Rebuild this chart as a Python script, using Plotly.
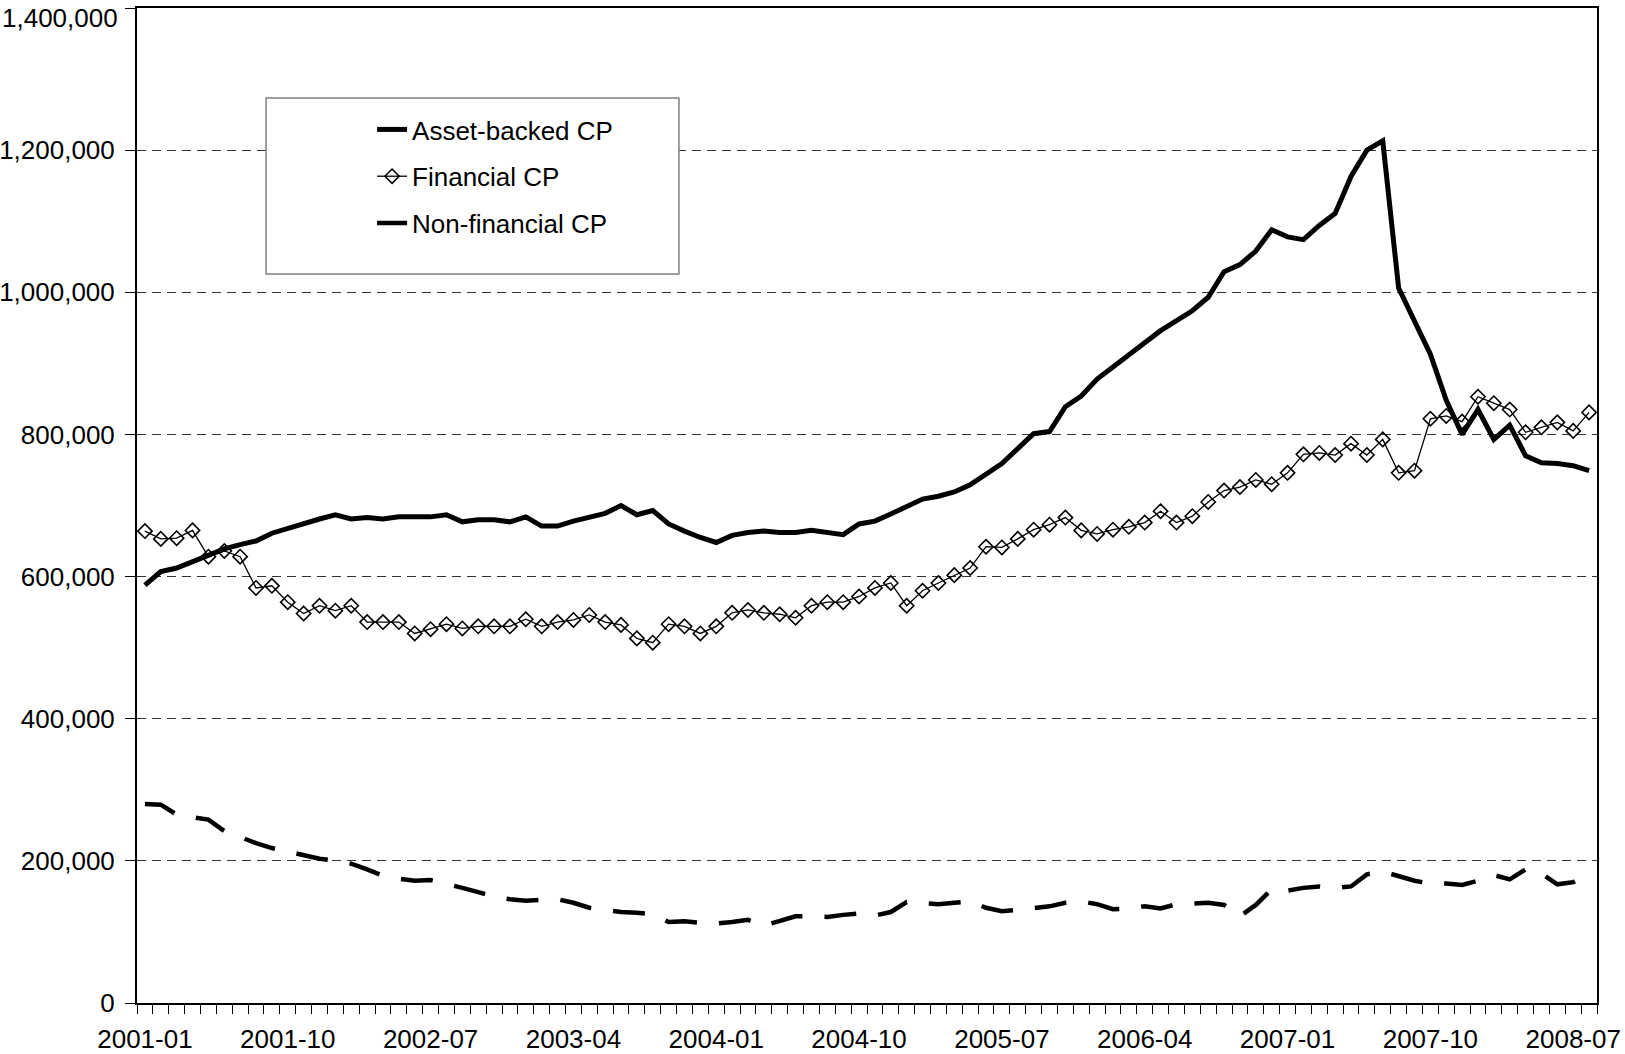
import plotly.graph_objects as go

# Monthly categories 2001-01 .. 2008-08
months = [f"{2001 + m // 12}-{m % 12 + 1:02d}" for m in range(92)]

tick_labels = ["2001-01", "2001-10", "2002-07", "2003-04", "2004-01", "2004-10",
               "2005-07", "2006-04", "2007-01", "2007-10", "2008-07"]

y_tick_values = [0, 200000, 400000, 600000, 800000, 1000000, 1200000, 1400000]

asset_backed = [
    588000, 607000, 612000, 621000, 630000, 639000, 645000, 650000, 661000, 668000,
    674000, 681000, 687000, 681000, 683000, 681000, 684000, 684000, 684000, 687000,
    677000, 680000, 680000, 677000, 684000, 671000, 671000, 678000, 683000, 689000,
    700000, 687000, 693000, 674000, 664000, 655000, 648000, 658000, 662000, 664000,
    662000, 662000, 665000, 662000, 659000, 674000, 678000, 688000, 699000, 709000,
    713000, 719000, 729000, 743000, 759000, 780000, 801000, 804000, 839000, 854000,
    878000, 895000, 911000, 929000, 946000, 959000, 974000, 993000, 1029000, 1039000,
    1058000, 1088000, 1078000, 1074000, 1094000, 1111000, 1163000, 1200000, 1213000, 1006000,
    959000, 913000, 848000, 800000, 835000, 793000, 813000, 770000, 760000, 759000,
    756000, 749000]

financial = [
    664000, 653000, 654000, 665000, 628000, 636000, 628000, 584000, 587000, 564000,
    548000, 559000, 552000, 559000, 536000, 536000, 536000, 520000, 526000, 533000,
    527000, 530000, 530000, 530000, 540000, 530000, 536000, 539000, 546000, 536000,
    532000, 513000, 507000, 533000, 530000, 520000, 530000, 549000, 553000, 549000,
    547000, 542000, 559000, 564000, 564000, 572000, 584000, 591000, 559000, 580000,
    591000, 602000, 612000, 642000, 641000, 653000, 666000, 673000, 683000, 665000,
    660000, 666000, 670000, 676000, 692000, 676000, 685000, 705000, 721000, 726000,
    736000, 730000, 746000, 772000, 774000, 771000, 787000, 771000, 793000, 746000,
    749000, 822000, 826000, 818000, 853000, 844000, 835000, 803000, 810000, 817000,
    805000, 831000]

non_financial = [
    280000, 279000, 265000, 261000, 258000, 242000, 233000, 225000, 218000, 213000,
    208000, 203000, 200000, 196000, 188000, 179000, 175000, 172000, 173000, 168000,
    162000, 156000, 150000, 146000, 144000, 145000, 146000, 141000, 134000, 131000,
    128000, 127000, 125000, 114000, 115000, 113000, 112000, 114000, 117000, 109000,
    115000, 122000, 122000, 121000, 124000, 126000, 123000, 128000, 142000, 140000,
    139000, 141000, 143000, 134000, 129000, 131000, 134000, 136000, 141000, 143000,
    139000, 132000, 133000, 136000, 133000, 139000, 140000, 141000, 138000, 122000,
    138000, 160000, 158000, 162000, 164000, 162000, 164000, 181000, 185000, 179000,
    172000, 168000, 168000, 166000, 172000, 180000, 174000, 188000, 182000, 167000,
    170000, 183000]

ticktext = [m if m in tick_labels else "" for m in months]
y_max = y_tick_values[-1]
# top label is drawn as an annotation nudged inside the page (as in the reference)
y_ticktext = [f"{v:,}" if v != y_max else "" for v in y_tick_values]

FONT = "Arial, 'Liberation Sans', sans-serif"
TICK_SIZE = 26

fig = go.Figure()
fig.add_trace(go.Scatter(
    x=months, y=asset_backed, name="Asset-backed CP", mode="lines",
    legendgroup="a", line=dict(color="black", width=5)))
fig.add_trace(go.Scatter(
    x=months, y=financial, name="Financial CP", mode="lines+markers",
    legendgroup="b", line=dict(color="black", width=1.3),
    marker=dict(symbol="diamond-open", size=11, color="black", line=dict(width=1.6))))
fig.add_trace(go.Scatter(
    x=months, y=non_financial, name="Non-financial CP", mode="lines",
    legendgroup="c", line=dict(color="black", width=4.5, dash="32px,22px")))

fig.update_layout(
    width=1625, height=1054,
    margin=dict(l=137, r=28, t=8, b=51, autoexpand=False),
    paper_bgcolor="white", plot_bgcolor="white",
    font=dict(family=FONT, color="black", size=TICK_SIZE),
    showlegend=True,
    legend=dict(x=0.161, y=0.9015, xanchor="left", yanchor="top",
                font=dict(size=26, family=FONT, color="black"),
                bgcolor="rgba(0,0,0,0)", borderwidth=0, tracegroupgap=10,
                traceorder="grouped"),
    shapes=[dict(type="rect", xref="paper", yref="paper",
                 x0=0.0884, x1=0.3712, y0=0.7327, y1=0.9095,
                 line=dict(color="#808080", width=1.5), fillcolor="white", layer="above")],
    annotations=[dict(text=f"{y_max:,}", xref="paper", yref="y", x=0, y=y_max,
                      xanchor="right", yanchor="middle", xshift=-17, yshift=-10,
                      showarrow=False,
                      font=dict(size=TICK_SIZE, family=FONT, color="black"))],
)

fig.update_xaxes(
    type="category", tickmode="array", tickvals=months, ticktext=ticktext,
    tickson="boundaries", ticks="outside", ticklen=9, tickwidth=1, tickcolor="black",
    showline=True, linecolor="black", linewidth=2, mirror=True, showgrid=False,
    range=[-0.5, 91.5], tickangle=0, ticklabelstandoff=12, automargin=False,
    tickfont=dict(size=TICK_SIZE, family=FONT, color="black"))

fig.update_yaxes(
    range=[0, y_max], tickmode="array", tickvals=y_tick_values, ticktext=y_ticktext,
    ticks="outside", ticklen=10,
    tickwidth=1, tickcolor="black", showline=True, linecolor="black", linewidth=2,
    mirror=True, showgrid=True, gridcolor="#333333", gridwidth=1, griddash="9px,6px",
    zeroline=False, ticklabelstandoff=5, automargin=False,
    tickfont=dict(size=TICK_SIZE, family=FONT, color="black"))

fig.write_html("out.html", config={"displayModeBar": False},
               post_script="document.body.style.margin='0';")
